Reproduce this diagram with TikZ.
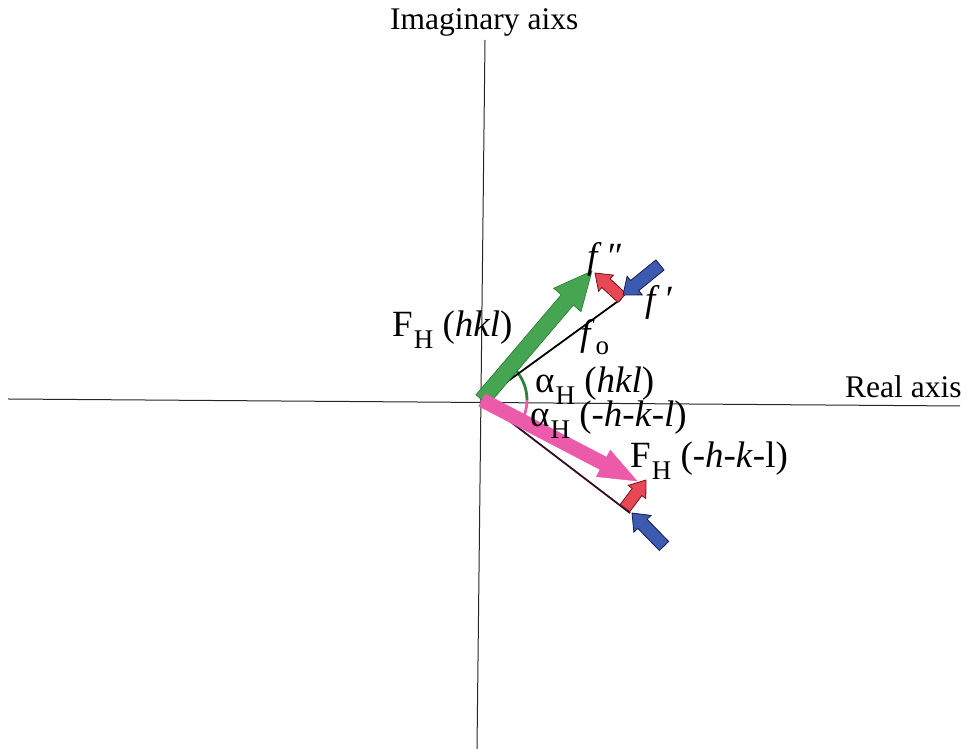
\documentclass[tikz,border=0pt]{standalone}
\usepackage{fontspec}
\setmainfont{LiberationSerif}[Extension=.ttf, UprightFont=*-Regular, ItalicFont=*-Italic, BoldFont=*-Bold, BoldItalicFont=*-BoldItalic]
\usetikzlibrary{calc}
\definecolor{grn}{RGB}{70,165,80}
\definecolor{grnd}{RGB}{40,120,50}
\definecolor{pnk}{RGB}{236,90,170}
\definecolor{rd}{RGB}{232,72,85}
\definecolor{rdd}{RGB}{110,20,30}
\definecolor{blu}{RGB}{60,90,175}
\definecolor{blud}{RGB}{20,30,80}
\definecolor{dk}{RGB}{50,10,40}
\newcommand\blockarrow[6]{%
  \filldraw[#1] let \p1=(#2), \p2=(#3),
    \n1={atan2(\y2-\y1,\x2-\x1)}, \n2={veclen(\x2-\x1,\y2-\y1)} in
    [shift={(\p1)}, rotate=\n1]
    (0,-#4) -- (\n2-#6,-#4) -- (\n2-#6,-#5) -- (\n2,0) -- (\n2-#6,#5) -- (\n2-#6,#4) -- (0,#4) -- cycle;}
\newcommand\subH{\kern1pt\raisebox{-0.3em}{\fontsize{27}{27}\selectfont H}}
\begin{document}
\begin{tikzpicture}[x=1pt,y=1pt,
  ax/.style={inner sep=0pt, anchor=base west, font=\fontsize{31.5}{36}\selectfont},
  lbl/.style={inner sep=0pt, anchor=base west, font=\fontsize{37}{42}\selectfont},
  axis/.style={line width=1pt, black!85},
  vec/.style={line width=1.8pt}]
\useasboundingbox (0,0) rectangle (967,749);
% axes
\coordinate (XL) at (8,350);
\coordinate (XR) at (960,343);
\coordinate (YT) at (485,709);
\coordinate (YB) at (477,0);
\draw[axis] (XL) -- (XR);
\draw[axis] (YT) -- (YB);
% points
\coordinate (O) at (482,349);
\coordinate (G) at (592,478);
\coordinate (Fo) at (621,450);
\coordinate (R1s) at (622,451);
\coordinate (R1e) at (595,476);
\coordinate (B1s) at (660,484);
\coordinate (B1e) at (623,454);
\coordinate (P) at (637,268);
\coordinate (Fo2) at (630,236);
\coordinate (R2s) at (625,241);
\coordinate (R2e) at (646,269);
\coordinate (B2s) at (664,203);
\coordinate (B2e) at (632,236);
% angle arcs
\draw[grnd!80!grn, line width=2.8pt] ($(O)+(45,0)$) arc[start angle=0, end angle=49, radius=45];
\draw[pnk, line width=2.8pt] ($(O)+(45,0)$) arc[start angle=0, end angle=-27, radius=45];
% f_o lines
\draw[vec, black] (O) -- (Fo);
\draw[vec, dk] (O) -- (Fo2);
% main vectors
\blockarrow{fill=grn, draw=grnd, line width=0.6pt}{O}{G}{8}{18}{38}
\blockarrow{fill=pnk, draw=pnk, line width=0.4pt}{O}{P}{7}{15}{38}
% anomalous components
\blockarrow{fill=rd, draw=rdd, line width=0.8pt}{R1s}{R1e}{6}{11}{15}
\blockarrow{fill=blu, draw=blud, line width=0.8pt}{B1s}{B1e}{6.5}{12}{15}
\blockarrow{fill=rd, draw=rdd, line width=0.8pt}{R2s}{R2e}{6}{11}{15}
\blockarrow{fill=blu, draw=blud, line width=0.8pt}{B2s}{B2e}{6.5}{12}{15}
% labels
\node[ax] (ti) at (390,719) {Imaginary aixs};
\node[ax] (tr) at (845,351) {Real axis};
\node[lbl] (tF1) at (392,412) {F\subH\ (\textit{hkl})};
\node[lbl] (tfpp) at (587,480) {\textit{f}\,″};
\node[lbl] (tfp) at (645,437) {\textit{f}\,′};
\node[lbl] (tfo) at (580,403) {\textit{f}\kern1pt\raisebox{-0.22em}{\fontsize{27}{27}\selectfont o}};
\node[lbl] (ta1) at (535,356) {α\subH\ (\textit{hkl})};
\node[lbl] (ta2) at (530,322) {α\subH\ (-\textit{h}-\textit{k}-\textit{l})};
\node[lbl] (tF2) at (630,281) {F\subH\ (-\textit{h}-\textit{k}-l)};
\end{tikzpicture}
\end{document}
